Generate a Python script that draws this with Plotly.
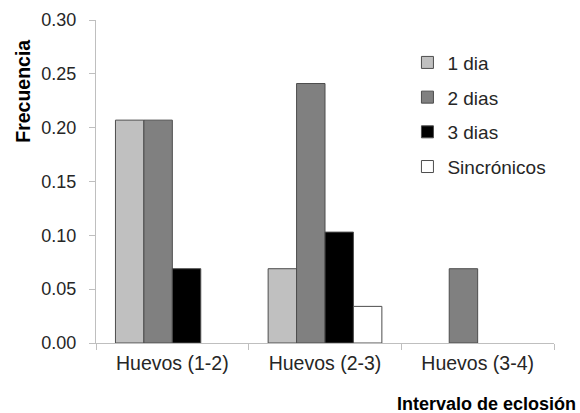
import plotly.graph_objects as go

categories = ["Huevos (1-2)", "Huevos (2-3)", "Huevos (3-4)"]
series_names = ["1 dia", "2 dias", "3 dias", "Sincrónicos"]
dia1 = [0.207, 0.069, 0.0]
dias2 = [0.207, 0.241, 0.069]
dias3 = [0.069, 0.103, 0.0]
sincronicos = [0.0, 0.034, 0.0]
y_ticks = [0.00, 0.05, 0.10, 0.15, 0.20, 0.25, 0.30]

colors = ["#c0c0c0", "#808080", "#000000", "#ffffff"]
values = [dia1, dias2, dias3, sincronicos]

FONT = "Liberation Sans, Arial, sans-serif"
TXT = "#262626"
AX = "#bfbfbf"

fig = go.Figure()
for name, vals, col in zip(series_names, values, colors):
    fig.add_trace(go.Bar(
        x=categories,
        y=[v if v > 0 else None for v in vals],  # zero -> no visible bar
        name=name, legendgroup=name,
        marker=dict(color=col, line=dict(color="#4d4d4d", width=1)),
    ))

fig.update_layout(
    width=580, height=413,
    margin=dict(l=96, r=26, t=20, b=70),
    paper_bgcolor="white", plot_bgcolor="white",
    barmode="group", bargap=0.255, bargroupgap=0,
    font=dict(family=FONT, size=19, color=TXT),
    showlegend=True,
    legend=dict(x=0.68, y=0.927, xanchor="left", yanchor="top",
                font=dict(size=19, color=TXT), tracegroupgap=7,
                itemwidth=30, bgcolor="rgba(0,0,0,0)"),
    xaxis=dict(showline=True, linecolor=AX, linewidth=1, ticks="outside",
               tickson="boundaries", ticklen=6, tickcolor=AX, showgrid=False,
               tickfont=dict(size=19.5, color=TXT), ticklabelstandoff=3,
               automargin=False),
    yaxis=dict(range=[0, 0.30], tickvals=y_ticks, tickformat=".2f",
               showline=True, linecolor=AX, linewidth=1, ticks="outside",
               ticklen=6, tickcolor=AX, showgrid=False, zeroline=False,
               tickfont=dict(size=18, color=TXT), ticklabelstandoff=9,
               automargin=False),
    annotations=[
        dict(text="<b>Frecuencia</b>", textangle=-90, xref="paper", yref="paper",
             x=-0.16, y=0.78, xanchor="center", yanchor="middle",
             showarrow=False, font=dict(size=19.5, color="#000000")),
        dict(text="<b>Intervalo de eclosión</b>", xref="paper", yref="paper",
             x=1.052, y=-0.19, xanchor="right", yanchor="middle",
             showarrow=False, font=dict(size=18, color="#000000")),
    ],
)

fig.write_html(
    "out.html",
    config={"displayModeBar": False},
    post_script="document.body.style.margin='0';document.body.style.overflow='hidden';",
)
